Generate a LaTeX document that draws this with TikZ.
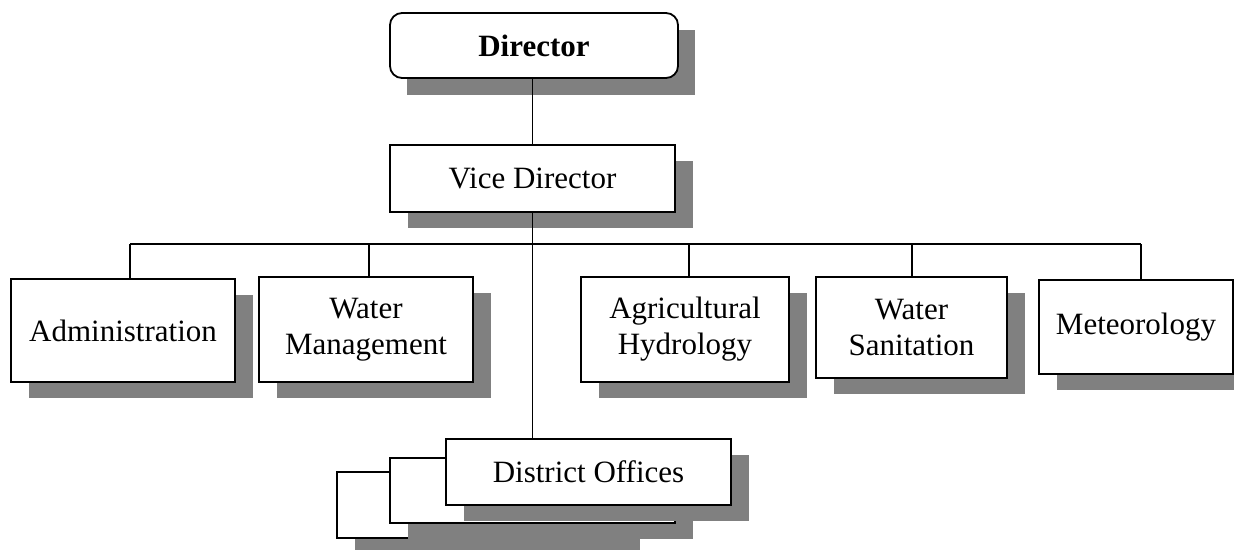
\documentclass[tikz,border=0pt]{standalone}
\usepackage{fontspec}
\setmainfont{Liberation Serif}
\usetikzlibrary{shadows,backgrounds}
\definecolor{shadowgray}{HTML}{808080}
\begin{document}
\begin{tikzpicture}[x=1pt,y=-1pt,
  box/.style={draw, line width=1.8pt, fill=white, inner sep=0pt, outer sep=0pt,
    anchor=north west, align=center, font=\fontsize{31}{36}\selectfont},
  shadowed/.style={drop shadow={shadow xshift=18pt, shadow yshift=-16pt, fill=shadowgray, opacity=1}},
  link/.style={line width=1.8pt}]
\useasboundingbox (0,0) rectangle (1234,549);

% Director
\node[box, rounded corners=12pt, minimum width=288pt, minimum height=65pt,
  font=\fontsize{31}{36}\selectfont\bfseries] (dir) at (390,13) {Director};
\begin{scope}[on background layer]
  \fill[shadowgray] ([shift={(17,17)}]dir.north west) rectangle ([shift={(17,17)}]dir.south east);
\end{scope}

% Vice Director
\node[box, shadowed, minimum width=285pt, minimum height=67pt] (vice) at (390,145) {Vice Director};

% Departments
\node[box, shadowed, minimum width=224pt, minimum height=103pt] (adm) at (11,279) {Administration};
\node[box, shadowed, minimum width=214pt, minimum height=105pt] (wm) at (259,277) {Water\\Management};
\node[box, shadowed, minimum width=208pt, minimum height=105pt] (agr) at (581,277) {Agricultural\\Hydrology};
\node[box, shadowed, minimum width=191pt, minimum height=101pt] (ws) at (816,277) {Water\\Sanitation};
\node[box, shadowed, minimum width=194pt, minimum height=94pt] (met) at (1039,280) {Meteorology};

% District offices stack
\node[box, shadowed, minimum width=285pt, minimum height=66pt] (dback) at (337,472) {};
\node[box, shadowed, minimum width=285pt, minimum height=65pt] (dmid) at (390,458) {};
\node[box, shadowed, minimum width=285pt, minimum height=66pt] (dof) at (446,439) {District Offices};

% Connectors
\draw[link] (vice.north) -- (vice.north |- dir.south);
\draw[link] (vice.south) -- (vice.south |- dof.north);
\coordinate (barL) at (130,244);
\coordinate (barR) at (1141,244);
\coordinate (b2) at (369,244);
\coordinate (b3) at (689,244);
\coordinate (b4) at (912,244);
\draw[link] (barL) -- (barR);
\draw[link] (barL) -- (barL |- adm.north);
\draw[link] (b2) -- (b2 |- wm.north);
\draw[link] (b3) -- (b3 |- agr.north);
\draw[link] (b4) -- (b4 |- ws.north);
\draw[link] (barR) -- (barR |- met.north);
\end{tikzpicture}
\end{document}
